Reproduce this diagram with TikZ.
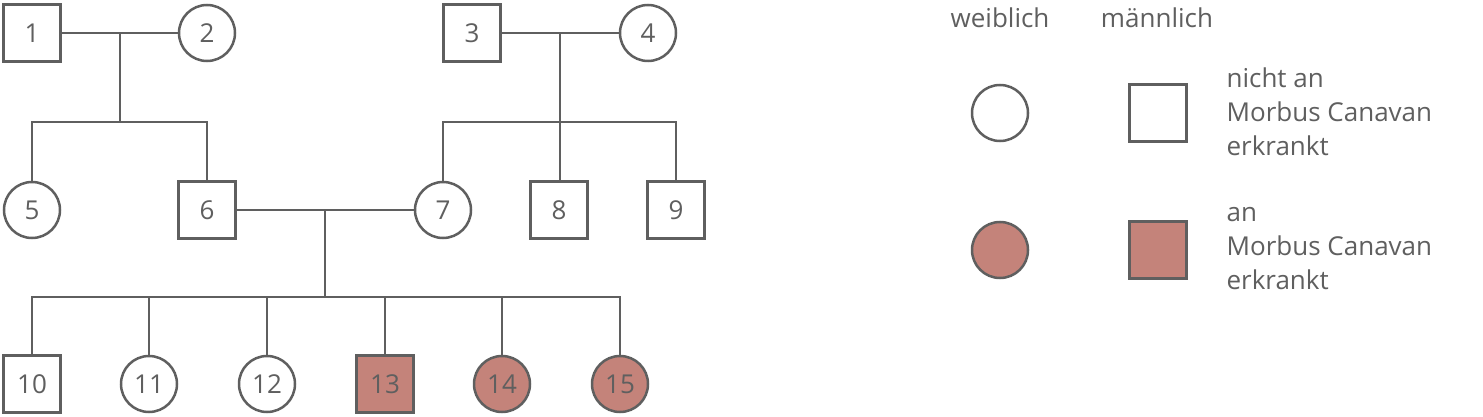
\documentclass[tikz,border=0pt]{standalone}
\usepackage{fontspec}
\setmainfont{Open Sans}
\usepackage{tikz}
\usetikzlibrary{positioning}
\definecolor{linegray}{HTML}{5F5F5F}
\definecolor{sick}{HTML}{C4837A}
\tikzset{
    every node/.style={text=linegray, font=\fontsize{26}{31}\selectfont}, % text colour and size
    male/.style={draw=linegray, line width=2.5pt, minimum size=57pt, inner sep=0pt, fill=white}, % square for men
    female/.style={male, circle, minimum size=56pt}, % circle for women
    ill/.style={fill=sick}, % affected persons
    legtext/.style={align=left, anchor=west, font=\fontsize{26}{34}\selectfont},
}
\begin{document}
\begin{tikzpicture}[x=1pt, y=-1pt, line width=2.5pt, draw=linegray]
        \useasboundingbox (0,0) rectangle (1483,417);
        % lines first
        \draw[linegray] (32,33) -- (207,33) (120,33) -- (120,122) (32,210) -- (32,122) -- (207,122) -- (207,210);
        \draw[linegray] (472,33) -- (648,33) (560,33) -- (560,210) (443,210) -- (443,122) -- (676,122) -- (676,210);
        \draw[linegray] (207,210) -- (443,210) (325,210) -- (325,297);
        \draw[linegray] (32,384) -- (32,297) -- (620,297) -- (620,384)
            (149,297) -- (149,384) (267,297) -- (267,384) (385,297) -- (385,384) (502,297) -- (502,384);
        % generation 1
        \node[male] (p1) at (32,33) {1};
        \node[female] (p2) at (207,33) {2};
        \node[male] (p3) at (472,33) {3};
        \node[female] (p4) at (648,33) {4};
        % generation 2
        \node[female] (p5) at (32,210) {5};
        \node[male] (p6) at (207,210) {6};
        \node[female] (p7) at (443,210) {7};
        \node[male] (p8) at (559,210) {8};
        \node[male] (p9) at (676,210) {9};
        % generation 3
        \node[male] (p10) at (32,384) {10};
        \node[female] (p11) at (149,384) {11};
        \node[female] (p12) at (267,384) {12};
        \node[male, ill] (p13) at (385,384) {13};
        \node[female, ill] (p14) at (502,384) {14};
        \node[female, ill] (p15) at (620,384) {15};
        % legend
        \node (lw) at (1000,18) {weiblich};
        \node (lm) at (1157,18) {männlich};
        \node[female] (lf) at (1000,113) {};
        \node[male] (lq) at (1158,113) {};
        \node[legtext] (lt1) at (1222,112) {nicht an\\Morbus Canavan\\erkrankt};
        \node[female, ill] (lfi) at (1000,250) {};
        \node[male, ill] (lqi) at (1158,250) {};
        \node[legtext] (lt2) at (1222,249) {an\\Morbus Canavan\\erkrankt};
    \end{tikzpicture}
\end{document}
